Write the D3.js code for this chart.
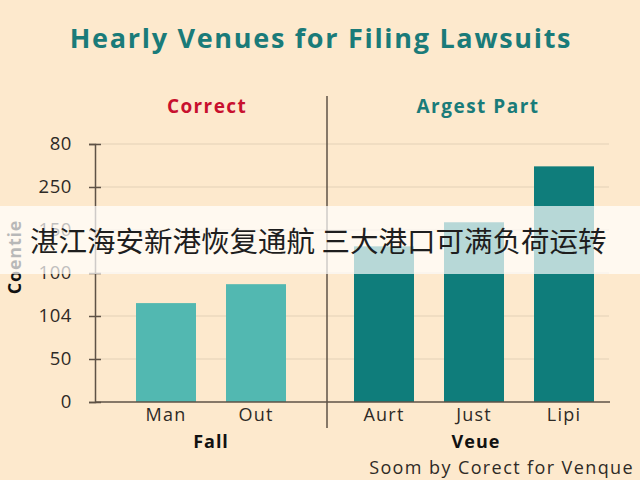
<!DOCTYPE html>
<html lang="en">
<head>
  <meta charset="UTF-8" />
  <title>Hearly Venues for Filing Lawsuits</title>
  <script src="https://d3js.org/d3.v7.min.js"></script>
  <style>
    html, body { margin: 0; padding: 0; background: #fde9cd; }
    svg { display: block; font-family: "Open Sans", sans-serif; }
  </style>
</head>
<body>
  <svg width="640" height="480"></svg>

  <script>
    // values
    const leftCats = ["Man", "Out"];
    const leftValues = [115, 137];
    const rightCats = ["Aurt", "Just", "Lipi"];
    const rightValues = [181, 209, 274];
    const yTickValues = [0, 50, 100, 150, 200, 250, 300];
    const yTickLabels = ["0", "50", "104", "100", "150", "250", "80"];

    const svg = d3.select("svg");
    const axisCol = "#5e5246";
    const gridCol = "#e3d2b8";
    const txtCol = "#2e2a26";

    const y = d3.scaleLinear().domain([0, 300]).range([402, 144]);
    const xL = d3.scaleBand().domain(leftCats).range([121, 301]).paddingInner(1 / 3).paddingOuter(1 / 6);
    const xR = d3.scaleBand().domain(rightCats).range([339, 609]).paddingInner(1 / 3).paddingOuter(1 / 6);

    svg.append("rect").attr("width", 640).attr("height", 480).attr("fill", "#fde9cd");

    // title
    svg.append("text")
      .attr("x", 321).attr("y", 48)
      .attr("text-anchor", "middle")
      .attr("font-size", 27).attr("font-weight", 700)
      .attr("letter-spacing", 1.7)
      .attr("fill", "#1a7b79")
      .text("Hearly Venues for Filing Lawsuits");

    svg.append("text")
      .attr("x", 207).attr("y", 113)
      .attr("text-anchor", "middle")
      .attr("font-size", 19).attr("font-weight", 700)
      .attr("letter-spacing", 1.4)
      .attr("fill", "#c8102e")
      .text("Correct");

    svg.append("text")
      .attr("x", 478).attr("y", 113)
      .attr("text-anchor", "middle")
      .attr("font-size", 19).attr("font-weight", 700)
      .attr("letter-spacing", 1.5)
      .attr("fill", "#1a7b79")
      .text("Argest Part");

    // gridlines
    const grid = svg.append("g");
    grid.selectAll("line.gl")
      .data(yTickValues.slice(1))
      .enter().append("line")
      .attr("x1", 95).attr("x2", 327)
      .attr("y1", d => y(d)).attr("y2", d => y(d))
      .attr("stroke", gridCol).attr("stroke-width", 1.2);
    grid.selectAll("line.gr")
      .data(yTickValues.slice(1))
      .enter().append("line")
      .attr("x1", 327).attr("x2", 609)
      .attr("y1", d => y(d)).attr("y2", d => y(d))
      .attr("stroke", gridCol).attr("stroke-width", 1.2);

    // bars
    svg.selectAll("rect.l")
      .data(leftValues)
      .enter().append("rect")
      .attr("x", (d, i) => xL(leftCats[i]))
      .attr("width", xL.bandwidth())
      .attr("y", d => y(d))
      .attr("height", d => y(0) - y(d))
      .attr("fill", "#52b8b1");

    svg.selectAll("rect.r")
      .data(rightValues)
      .enter().append("rect")
      .attr("x", (d, i) => xR(rightCats[i]))
      .attr("width", xR.bandwidth())
      .attr("y", d => y(d))
      .attr("height", d => y(0) - y(d))
      .attr("fill", "#0f7d7b");

    // y axis
    const yAxis = d3.axisLeft(y)
      .tickValues(yTickValues)
      .tickFormat((d, i) => yTickLabels[i])
      .tickSize(6).tickPadding(17);
    const ya = svg.append("g").attr("transform", "translate(95,0)").call(yAxis);
    ya.select(".domain").attr("stroke", axisCol).attr("stroke-width", 1.5);
    ya.selectAll(".tick line").attr("stroke", axisCol).attr("stroke-width", 1.5).attr("x2", 6).attr("x1", -6);
    ya.selectAll(".tick text")
      .attr("font-size", 18.5).attr("fill", txtCol)
      .attr("letter-spacing", 0.6)
      .attr("font-family", "Open Sans, sans-serif");

    // baseline + divider
    svg.append("line")
      .attr("x1", 95).attr("x2", 610)
      .attr("y1", y(0)).attr("y2", y(0))
      .attr("stroke", axisCol).attr("stroke-width", 1.5);
    svg.append("line")
      .attr("x1", 327).attr("x2", 327)
      .attr("y1", 96).attr("y2", 428)
      .attr("stroke", axisCol).attr("stroke-width", 1.5);

    // x labels
    const xaL = svg.append("g").attr("transform", `translate(0,${y(0)})`)
      .call(d3.axisBottom(xL).tickSize(0).tickPadding(6));
    const xaR = svg.append("g").attr("transform", `translate(0,${y(0)})`)
      .call(d3.axisBottom(xR).tickSize(0).tickPadding(6));
    [xaL, xaR].forEach(g => {
      g.select(".domain").remove();
      g.selectAll("text").attr("font-size", 18).attr("fill", txtCol)
        .attr("letter-spacing", 1.2)
        .attr("font-family", "Open Sans, sans-serif");
    });

    svg.append("text")
      .attr("x", 211).attr("y", 448)
      .attr("text-anchor", "middle")
      .attr("font-size", 18).attr("font-weight", 700).attr("fill", "#111")
      .attr("letter-spacing", 1)
      .text("Fall");
    svg.append("text")
      .attr("x", 476).attr("y", 448)
      .attr("text-anchor", "middle")
      .attr("font-size", 18).attr("font-weight", 700).attr("fill", "#111")
      .attr("letter-spacing", 1)
      .text("Veue");

    svg.append("text")
      .attr("transform", "translate(21,257) rotate(-90)")
      .attr("text-anchor", "middle")
      .attr("font-size", 18).attr("font-weight", 700).attr("fill", "#111")
      .attr("letter-spacing", 0.8)
      .text("Coentie");

    svg.append("text")
      .attr("x", 634).attr("y", 474)
      .attr("text-anchor", "end")
      .attr("font-size", 18).attr("fill", txtCol)
      .attr("letter-spacing", 1.4)
      .text("Soom by Corect for Venque");

    // overlay banner
    svg.append("rect")
      .attr("x", 0).attr("y", 206).attr("width", 640).attr("height", 68)
      .attr("fill", "#ffffff").attr("fill-opacity", 0.7);
    svg.append("text")
      .attr("x", 30).attr("y", 252)
      .attr("font-family", "Noto Sans CJK SC, sans-serif")
      .attr("font-size", 28.5).attr("fill", "#1e1e1e")
      .text("湛江海安新港恢复通航 三大港口可满负荷运转");
  </script>
</body>
</html>
